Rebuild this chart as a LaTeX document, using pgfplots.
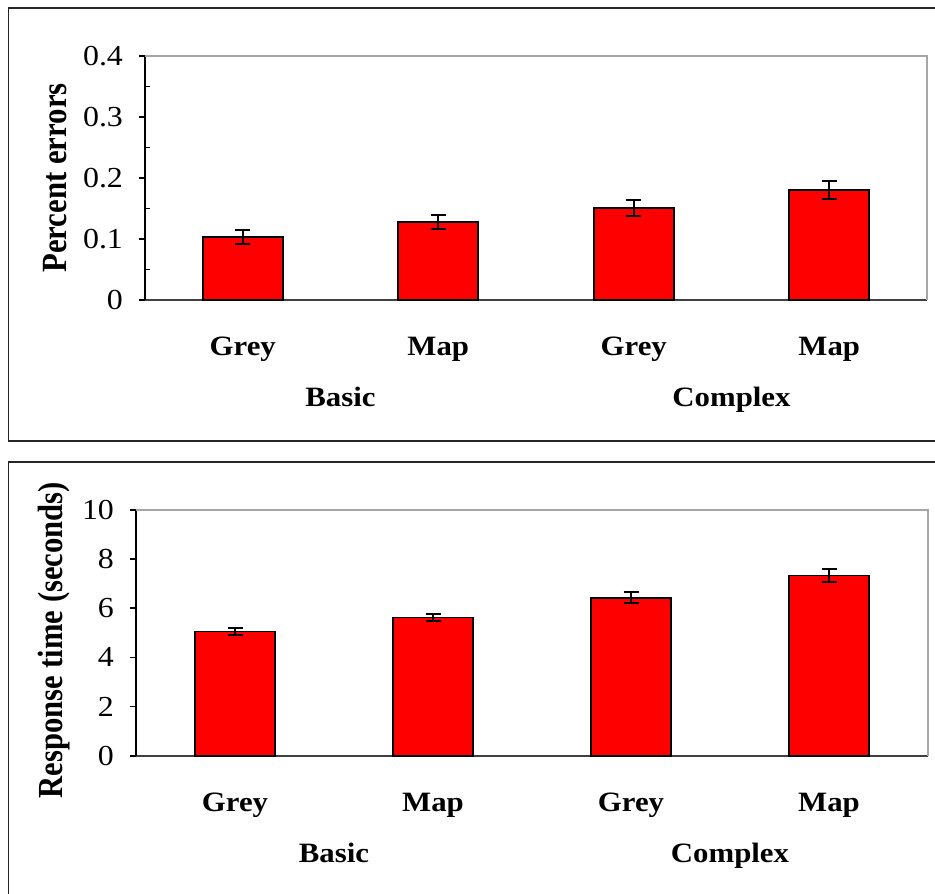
\documentclass[border=0pt]{standalone}
\usepackage{fontspec}
\setmainfont{Liberation Serif}[FakeStretch=1.1]
\newfontfamily\labfont{Liberation Serif}
\usepackage{graphicx}
\usepackage{pgfplots}
\usepackage{pgfplotstable}
\pgfplotsset{compat=1.18}

\pgfplotstableread{
x y err
0 0.103 0.012
1 0.128 0.0115
2 0.151 0.0135
3 0.180 0.015
}\errtable
\pgfplotstableread{
x y err
0 5.05 0.13
1 5.63 0.13
2 6.43 0.22
3 7.33 0.26
}\rttable

\pgfplotsset{
  mybar/.style={
    scale only axis, ybar, bar width=40pt,
    xmin=-0.5, xmax=3.5, ymin=0,
    axis x line*=bottom, axis y line*=left,
    x axis line style={draw=black!75, line width=0.9pt},
    y axis line style={draw=black, line width=0.9pt},
    xtick={0,1,2,3}, xticklabels={Grey,Map,Grey,Map},
    x tick style={draw=none},
    xticklabel style={font=\fontsize{14}{14}\selectfont\bfseries, anchor=base, yshift=-25pt},
    extra x ticks={0.5,2.5}, extra x tick labels={Basic,Complex},
    extra x tick style={major tick length=0pt, xticklabel style={yshift=-28.5pt}},
    tick align=outside, major tick length=3pt, minor tick length=2.5pt,
    y tick style={black, line width=0.8pt},
    minor y tick style={xshift=2.5pt},
    yticklabel style={font=\fontsize{14.5}{14.5}\selectfont, anchor=east, xshift=-4.5pt},
    /pgf/number format/assume math mode=true,
    /pgf/number format/fixed,
    clip=false,
  },
}

\begin{document}
\begin{tikzpicture}
\useasboundingbox (0pt,0pt) rectangle (467.5pt,446.5pt);
\draw[black!85, line width=0.8pt] (480pt,442.5pt) -- (4.2pt,442.5pt) -- (4.2pt,226pt) -- (480pt,226pt);
\draw[black!85, line width=0.8pt] (480pt,215.5pt) -- (4.2pt,215.5pt) -- (4.2pt,-10pt);

\begin{axis}[mybar,
  at={(72.5pt,296.5pt)}, anchor=south west, width=391pt, height=122pt,
  ymax=0.4, ytick={0,0.1,0.2,0.3,0.4}, minor y tick num=1,
  ylabel={\scalebox{1}[1.15]{Percent errors}},
  ylabel style={font=\labfont\fontsize{15.4}{15.4}\selectfont\bfseries, at={(axis description cs:-0.115,0.5)}, anchor=center},
]
\addplot[fill=red, draw=black, line width=0.8pt,
    error bars/.cd, y dir=both, y explicit,
    error bar style={line width=1pt, black},
    error mark options={rotate=90, mark size=3.75pt, line width=1pt, black}]
  table[x=x, y=y, y error=err] {\errtable};
\draw[gray!70, line width=0.8pt] (rel axis cs:0,1) -- (rel axis cs:1,1) -- (rel axis cs:1,0);
\end{axis}

\begin{axis}[mybar,
  at={(68pt,68.65pt)}, anchor=south west, width=396pt, height=122.85pt,
  ymax=10, ytick={0,2,4,6,8,10},
  ylabel={\scalebox{1}[1.15]{Response time (seconds)}},
  ylabel style={font=\labfont\fontsize{15.3}{15.3}\selectfont\bfseries, at={(axis description cs:-0.103,0.47)}, anchor=center},
]
\addplot[fill=red, draw=black, line width=0.8pt,
    error bars/.cd, y dir=both, y explicit,
    error bar style={line width=1pt, black},
    error mark options={rotate=90, mark size=3.75pt, line width=1pt, black}]
  table[x=x, y=y, y error=err] {\rttable};
\draw[gray!70, line width=0.8pt] (rel axis cs:0,1) -- (rel axis cs:1,1) -- (rel axis cs:1,0);
\end{axis}
\end{tikzpicture}
\end{document}
